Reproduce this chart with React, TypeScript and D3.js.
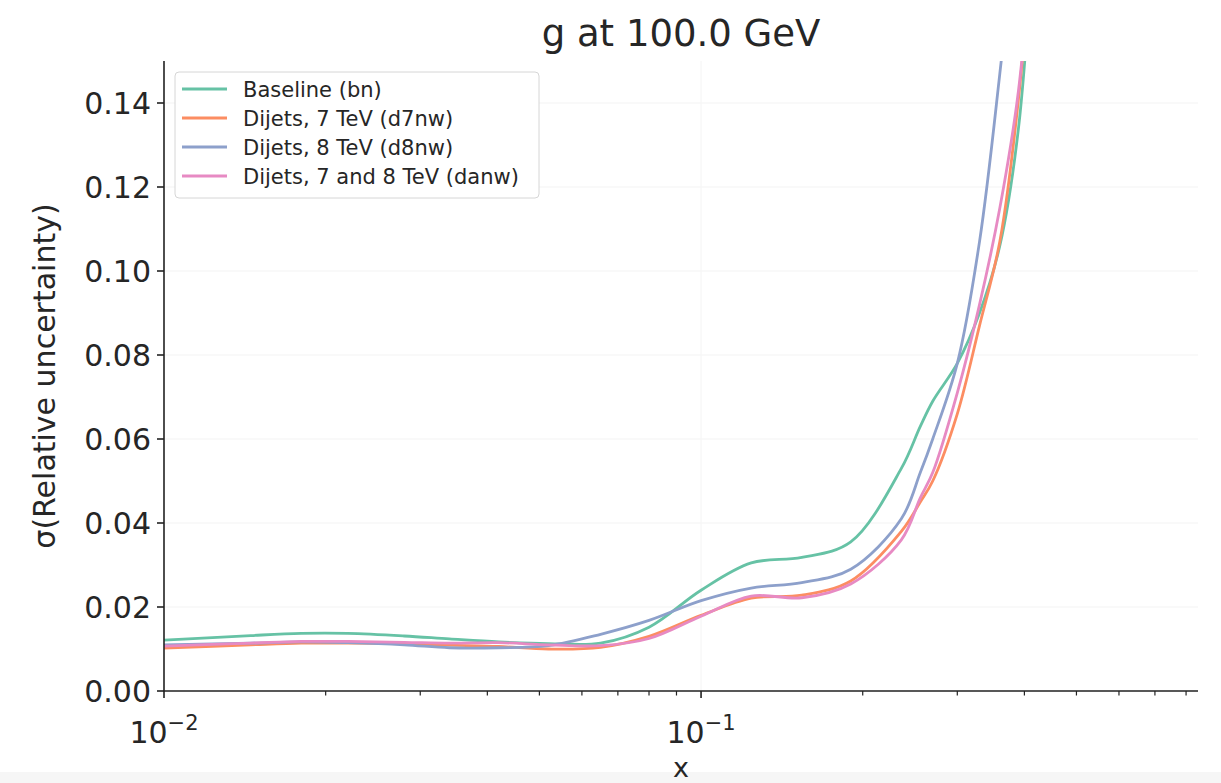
import React from "react";
import * as d3 from "d3";

const xs = [0.01, 0.0145, 0.018, 0.022, 0.028, 0.034, 0.042, 0.052, 0.065, 0.08, 0.1, 0.124, 0.154, 0.19, 0.236, 0.256, 0.27, 0.3, 0.33, 0.36, 0.39, 0.42];

const baseline = [0.0121, 0.0132, 0.0137, 0.0137, 0.0131, 0.0124, 0.0117, 0.0113, 0.0114, 0.0152, 0.024, 0.0305, 0.0318, 0.0355, 0.053, 0.063, 0.069, 0.078, 0.090, 0.106, 0.134, 0.19];
const d7nw = [0.0102, 0.0110, 0.0114, 0.0114, 0.0112, 0.0109, 0.0106, 0.0100, 0.0104, 0.0130, 0.0180, 0.0221, 0.0228, 0.0262, 0.038, 0.045, 0.050, 0.066, 0.087, 0.107, 0.141, 0.19];
const d8nw = [0.0110, 0.0114, 0.0117, 0.0115, 0.0110, 0.0103, 0.0103, 0.0108, 0.0135, 0.0168, 0.0215, 0.0245, 0.0258, 0.0290, 0.041, 0.052, 0.060, 0.078, 0.107, 0.147, 0.19, 0.24];
const danw = [0.0107, 0.0114, 0.0118, 0.0118, 0.0116, 0.0114, 0.0115, 0.0110, 0.0108, 0.0125, 0.0178, 0.0226, 0.0222, 0.0255, 0.036, 0.046, 0.052, 0.071, 0.092, 0.115, 0.143, 0.19];

const seriesNames = ["Baseline (bn)", "Dijets, 7 TeV (d7nw)", "Dijets, 8 TeV (d8nw)", "Dijets, 7 and 8 TeV (danw)"];
const seriesValues = [baseline, d7nw, d8nw, danw];
const seriesColors = ["#66c2a5", "#fc8d62", "#8da0cb", "#e78ac3"];

const yTicks = [0, 0.02, 0.04, 0.06, 0.08, 0.1, 0.12, 0.14];
const xMajor = [0.01, 0.1];
const xMajorExp = ["−2", "−1"];
const xMinor = [0.02, 0.03, 0.04, 0.05, 0.06, 0.07, 0.08, 0.09, 0.2, 0.3, 0.4, 0.5, 0.6, 0.7, 0.8];

const W = 1221, H = 783;
const L = 164, R = 1198, T = 61, B = 691;
const FONT = "DejaVu Sans, sans-serif";
const TXT = "#262626";

export default function App() {
  const x = d3.scaleLog().domain([0.01, 0.842]).range([L, R]);
  const y = d3.scaleLinear().domain([0, 0.15]).range([B, T]);
  const line = d3.line<number>()
    .x((_, i) => x(xs[i]))
    .y((d) => y(d))
    .curve(d3.curveCatmullRom.alpha(0.5));

  return (
    <svg width={W} height={H} style={{ position: "absolute", left: 0, top: 0, background: "#fff" }}>
      <rect x={0} y={0} width={W} height={H} fill="#fff" />
      <rect x={0} y={772} width={W} height={H - 772} fill="#f6f6f6" />
      <defs>
        <clipPath id="plotclip">
          <rect x={L} y={T} width={R - L} height={B - T} />
        </clipPath>
      </defs>
      {/* grid */}
      {yTicks.map((t) => (
        <line key={"gy" + t} x1={L} x2={R} y1={y(t)} y2={y(t)} stroke="#f4f4f4" strokeWidth={1.2} />
      ))}
      {xMajor.map((t) => (
        <line key={"gx" + t} x1={x(t)} x2={x(t)} y1={T} y2={B} stroke="#f6f6f6" strokeWidth={1.2} />
      ))}
      {/* lines */}
      <g clipPath="url(#plotclip)">
        {seriesValues.map((vals, i) => (
          <path key={i} d={line(vals) || ""} fill="none" stroke={seriesColors[i]} strokeWidth={2.8} />
        ))}
      </g>
      {/* axes */}
      <line x1={L} x2={L} y1={T} y2={B + 0.8} stroke="#222" strokeWidth={1.6} />
      <line x1={L - 0.8} x2={R} y1={B} y2={B} stroke="#222" strokeWidth={1.6} />
      {yTicks.map((t) => (
        <g key={"yt" + t}>
          <line x1={L - 7} x2={L} y1={y(t)} y2={y(t)} stroke="#222" strokeWidth={1.6} />
          <text x={L - 13} y={y(t)} dy="0.36em" textAnchor="end" fontFamily={FONT} fontSize={30} fill={TXT}>
            {t.toFixed(2)}
          </text>
        </g>
      ))}
      {xMajor.map((t, i) => (
        <g key={"xt" + t}>
          <line x1={x(t)} x2={x(t)} y1={B} y2={B + 7} stroke="#222" strokeWidth={1.6} />
          <text x={x(t)} y={B + 52} textAnchor="middle" fontFamily={FONT} fontSize={30} fill={TXT}>
            10<tspan dy={-13} fontSize={21}>{xMajorExp[i]}</tspan>
          </text>
        </g>
      ))}
      {xMinor.map((t) => (
        <line key={"xm" + t} x1={x(t)} x2={x(t)} y1={B} y2={B + 4.5} stroke="#222" strokeWidth={1.2} />
      ))}
      {/* title & labels */}
      <text x={(L + R) / 2} y={46} textAnchor="middle" fontFamily={FONT} fontSize={37} fill={TXT}>
        g at 100.0 GeV
      </text>
      <text x={(L + R) / 2} y={777} textAnchor="middle" fontFamily={FONT} fontSize={27} fill={TXT}>
        x
      </text>
      <text transform={`translate(55, ${(T + B) / 2}) rotate(-90)`} textAnchor="middle" fontFamily={FONT} fontSize={30} fill={TXT}>
        σ(Relative uncertainty)
      </text>
      {/* legend */}
      <g>
        <rect x={175} y={72} width={364} height={126} rx={4} fill="#fff" fillOpacity={0.9} stroke="#d6d6d6" strokeWidth={1} />
        {seriesNames.map((n, i) => (
          <g key={n}>
            <line x1={182} x2={227} y1={89 + i * 29} y2={89 + i * 29} stroke={seriesColors[i]} strokeWidth={2.8} />
            <text x={243} y={89 + i * 29} dy="0.36em" fontFamily={FONT} fontSize={21} fill={TXT}>
              {n}
            </text>
          </g>
        ))}
      </g>
    </svg>
  );
}
